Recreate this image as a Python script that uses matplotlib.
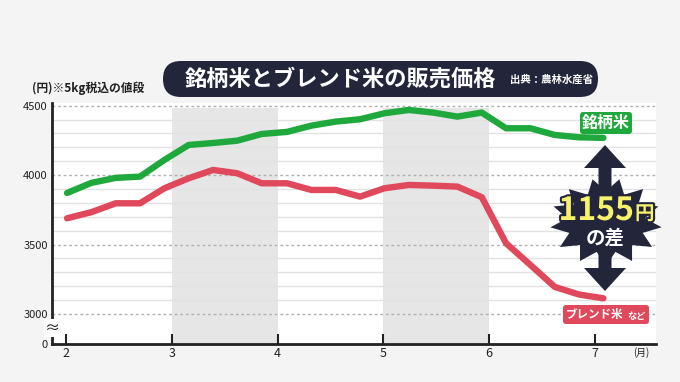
import matplotlib
matplotlib.use('Agg')
import matplotlib.pyplot as plt
from matplotlib.patches import FancyBboxPatch, Polygon
import matplotlib.patheffects as pe
import numpy as np

plt.rcParams['font.family'] = ['Noto Sans CJK JP', 'DejaVu Sans']

# ---- data (x in months, weekly points) ----
months = [2.01, 2.24, 2.47, 2.70, 2.93, 3.16, 3.39, 3.62, 3.85, 4.09, 4.32, 4.55,
          4.78, 5.01, 5.24, 5.47, 5.70, 5.93, 6.16, 6.39, 6.62, 6.85, 7.08]
brand_rice = [3871, 3944, 3980, 3989, 4109, 4217, 4231, 4248, 4296, 4311, 4356, 4385,
              4402, 4445, 4469, 4450, 4421, 4450, 4337, 4337, 4289, 4272, 4268]
blend_rice = [3689, 3733, 3797, 3797, 3905, 3977, 4037, 4013, 3941, 3941, 3893, 3893,
              3845, 3905, 3929, 3924, 3917, 3841, 3509, 3353, 3195, 3140, 3113]
xticks = [2, 3, 4, 5, 6, 7]
xticklabels = ['2', '3', '4', '5', '6', '7']
yticks = [3000, 3500, 4000, 4500]
shaded = [(3, 4), (5, 6)]
diff_label = '1155'

W, H = 680, 382
fig = plt.figure(figsize=(6.8, 3.82), dpi=100)
fig.patch.set_facecolor('#f4f4f4')

ax = fig.add_axes([52 / W, 1 - 344 / H, (656 - 52) / W, (344 - 103) / H])
ax.set_facecolor('white')
y0 = 2784
ax.set_ylim(y0, 4519)
ax.set_xlim(1.868, 7.577)

for a, b in shaded:
    ax.fill_between([a, b], y0, 4485, color='#e6e6e6', lw=0, zorder=0)

for v in range(3100, 4500, 100):
    if v % 500:
        ax.axhline(v, color='#e2e2e2', lw=1, zorder=1)
for v in yticks:
    ax.axhline(v, color='#b0b0b0', lw=1, ls=(0, (2, 2)), zorder=1)

GREEN = '#1fa83c'
RED = '#e0485b'
NAVY = '#23253b'
ax.plot(months, brand_rice, color=GREEN, lw=4.6, solid_capstyle='round',
        solid_joinstyle='round', zorder=3)
ax.plot(months, blend_rice, color=RED, lw=4.6, solid_capstyle='round',
        solid_joinstyle='round', zorder=3)

ax.set_yticks([y0] + yticks)
ax.set_yticklabels(['0'] + [str(v) for v in yticks])
ax.tick_params(axis='y', length=0, pad=3, labelsize=8, labelcolor='#222')
ax.set_xticks(xticks)
ax.set_xticklabels(xticklabels)
ax.tick_params(axis='x', direction='in', length=7, width=1.5, color='#222',
               pad=2, labelsize=9, labelcolor='#222')
for s in ['top', 'right']:
    ax.spines[s].set_visible(False)
for s in ['left', 'bottom']:
    ax.spines[s].set_color('#222')
    ax.spines[s].set_linewidth(2)

# ---- overlay in pixel coordinates ----
ov = fig.add_axes([0, 0, 1, 1], zorder=10)
ov.set_xlim(0, W)
ov.set_ylim(H, 0)
ov.axis('off')
ov.patch.set_alpha(0)

# axis break mark
ov.text(52, 328, '≈', ha='center', va='center', fontsize=11, color='#222',
        bbox=dict(boxstyle='square,pad=0.05', fc='white', ec='none'))

# title
ov.add_patch(FancyBboxPatch((163, 61), 435, 36,
                            boxstyle='round,pad=0,rounding_size=18',
                            fc=NAVY, ec='none'))
ov.text(340, 79, '銘柄米とブレンド米の販売価格', ha='center', va='center',
        fontsize=16, fontweight='bold', color='white')
ov.text(510, 80, '出典：農林水産省', ha='left', va='center', fontsize=7.5,
        fontweight='bold', color='white')

# y label and x unit
ov.text(32, 88, '(円)※5kg税込の値段', ha='left', va='center', fontsize=8.5,
        fontweight='bold', color='#222')
ov.text(641, 353, '(月)', ha='center', va='center', fontsize=7, color='#222')

# series labels
ov.add_patch(FancyBboxPatch((580, 112), 52, 22, boxstyle='round,pad=0,rounding_size=3',
                            fc=GREEN, ec='none'))
ov.text(606, 123, '銘柄米', ha='center', va='center', fontsize=11.5,
        fontweight='bold', color='white')
ov.add_patch(FancyBboxPatch((563, 305), 86, 19, boxstyle='round,pad=0,rounding_size=3',
                            fc=RED, ec='none'))
ov.text(566, 314.5, 'ブレンド米', ha='left', va='center', fontsize=8.3,
        fontweight='bold', color='white')
ov.text(627, 316, 'など', ha='left', va='center', fontsize=6.6,
        fontweight='bold', color='white')

# starburst
n = 13
ang = np.linspace(0, 2 * np.pi, 2 * n, endpoint=False) + 0.12
rad = np.where(np.arange(2 * n) % 2 == 0, 1.0, 0.7)
pts = np.column_stack([606 + 56 * rad * np.cos(ang), 222 + 44 * rad * np.sin(ang)])
ov.add_patch(Polygon(pts, closed=True, fc=NAVY, ec='none'))

# double arrow
arrow = [(605, 145), (584, 168), (598.5, 168), (598.5, 268), (584, 268), (605, 291),
         (626, 268), (611.5, 268), (611.5, 168), (626, 168)]
ov.add_patch(Polygon(arrow, closed=True, fc=NAVY, ec='none'))

stroke = [pe.withStroke(linewidth=3, foreground=NAVY)]
ov.text(634, 211, diff_label, ha='right', va='center', fontsize=23, fontweight='bold',
        color='#f6f26b', path_effects=stroke)
ov.text(635, 214, '円', ha='left', va='center', fontsize=14, fontweight='bold',
        color='#f6f26b', path_effects=stroke)
ov.text(605, 238, 'の差', ha='center', va='center', fontsize=14, fontweight='bold',
        color='white')

fig.savefig('out.png', dpi=100, facecolor=fig.get_facecolor())
